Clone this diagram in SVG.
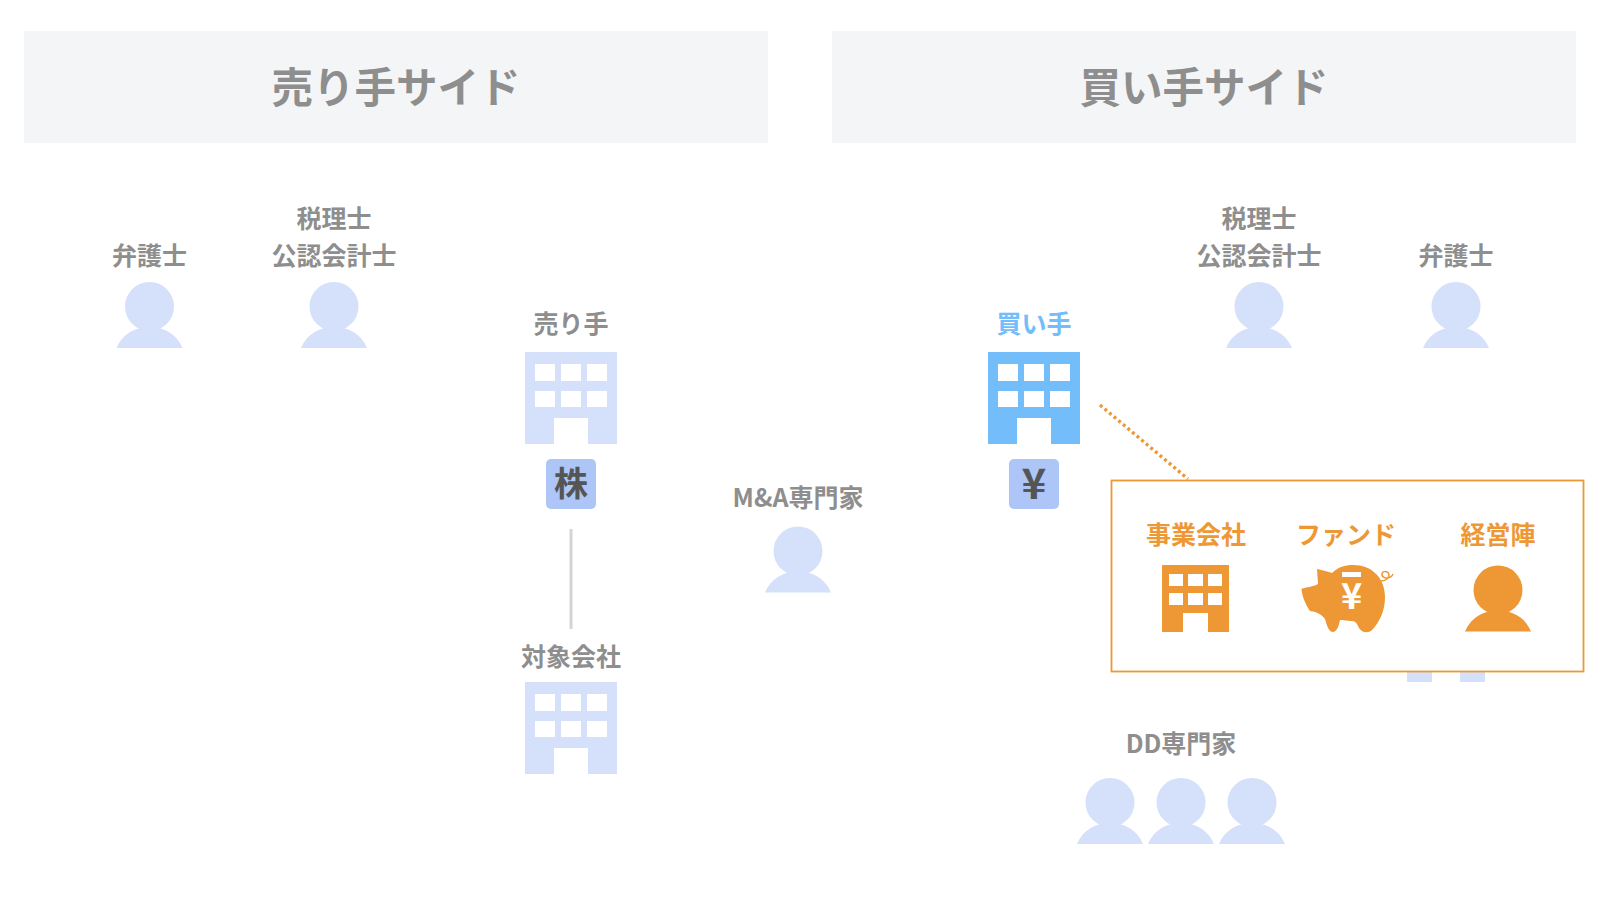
<svg xmlns="http://www.w3.org/2000/svg" width="1600" height="900" viewBox="0 0 1600 900">
<style>
text{font-family:"Noto Sans CJK JP","Noto Sans",sans-serif;font-weight:700;text-anchor:middle}
.h{font-size:41.500px;fill:#8e8e8e}
.l{font-size:25px;fill:#8e8e8e}
.o{font-size:25px;fill:#ee9835}
.k{font-size:34px;fill:#555}
.hd{fill:#f4f5f7}
.tag{fill:#adc5f7}
</style>
<defs>
<g id="bld"><path fill-rule="evenodd" d="M0 0H92V92H63V66H29V92H0ZM10 12V29H30V12ZM36 12V29H56V12ZM62 12V29H82V12ZM10 39V55H30V39ZM36 39V55H56V39ZM62 39V55H82V39Z"/></g>
<g id="per"><circle cx="0" cy="24.500" r="24.500"/><path d="M-33 66C-27 52-15 45 0 45S27 52 33 66Z"/></g>
</defs>
<rect width="1600" height="900" fill="#fff"/>
<g id="header-seller"><rect class="hd" x="24" y="31" width="744" height="112"/><text class="h" x="396" y="103">売り手サイド</text></g>
<g id="header-buyer"><rect class="hd" x="832" y="31" width="744" height="112"/><text class="h" x="1204" y="103">買い手サイド</text></g>
<g id="connectors">
<line x1="571" y1="529" x2="571" y2="629" stroke="#d4d4d4" stroke-width="3"/>
<line x1="1100" y1="405" x2="1188" y2="479" stroke="#ee9835" stroke-width="3.400" stroke-dasharray="3 3"/>
</g>
<g id="seller-lawyer" fill="#d5e0fa"><text class="l" x="149.500" y="265">弁護士</text><use href="#per" x="149.500" y="282"/></g>
<g id="seller-tax" fill="#d5e0fa"><text class="l" x="334" y="227.500">税理士</text><text class="l" x="334" y="265">公認会計士</text><use href="#per" x="334" y="282"/></g>
<g id="seller" fill="#d5e0fa"><text class="l" x="571" y="332.500">売り手</text><use href="#bld" x="525" y="352"/><rect class="tag" x="546" y="459" width="50" height="50" rx="5"/><text class="k" x="571" y="496">株</text></g>
<g id="target" fill="#d5e0fa"><text class="l" x="571" y="665.500">対象会社</text><use href="#bld" x="525" y="682"/></g>
<g id="ma" fill="#d5e0fa"><text class="l" x="798" y="506.500">M&amp;A専門家</text><use href="#per" x="798" y="526.500"/></g>
<g id="buyer" fill="#73bdfb"><text class="l" style="fill:#73bdfb" x="1034" y="332.500">買い手</text><use href="#bld" x="988" y="352"/><rect class="tag" x="1009" y="459" width="50" height="50" rx="5"/><text x="1034" y="499" font-size="42" style="fill:#555">¥</text></g>
<g id="buyer-tax" fill="#d5e0fa"><text class="l" x="1259" y="227.500">税理士</text><text class="l" x="1259" y="265">公認会計士</text><use href="#per" x="1259" y="282"/></g>
<g id="buyer-lawyer" fill="#d5e0fa"><text class="l" x="1456" y="265">弁護士</text><use href="#per" x="1456" y="282"/></g>
<g id="dd" fill="#d5e0fa"><text class="l" x="1181" y="753">DD専門家</text><use href="#per" x="1110" y="778"/><use href="#per" x="1181" y="778"/><use href="#per" x="1252" y="778"/></g>
<g id="hidden-building" fill="#d5e0fa"><rect x="1407" y="671" width="25" height="11"/><rect x="1460" y="671" width="25" height="11"/></g>
<g id="buyer-types">
<rect x="1111.500" y="480.500" width="472" height="191" fill="#fff" stroke="#ee9835" stroke-width="1.800"/>
<g id="company" fill="#ee9835"><text class="o" x="1196" y="544">事業会社</text>
<path fill-rule="evenodd" d="M1162 565H1229V632H1208V613H1183V632H1162ZM1169 574V586H1183V574ZM1188 574V586H1203V574ZM1208 574V586H1222V574ZM1169 593V605H1183V593ZM1188 593V605H1203V593ZM1208 593V605H1222V593Z"/></g>
<g id="fund" fill="#ee9835"><text class="o" x="1346" y="544">ファンド</text>
<path d="M1301.500 589C1306 587 1313 587 1318 584L1317 569C1323 570 1328 572 1332 573C1338 567 1345 565 1353 565C1372 565 1385 578 1385 597C1385 612 1379 622 1373 629C1369 634 1362 633 1359 628C1357 624 1356 621 1352 621C1348 621 1342 620 1340 620C1339 625 1337 632 1333 632C1329 632 1327 626 1325 619C1322 615 1318 612 1310 611C1306 605 1302 597 1301.500 589Z"/>
<path d="M1381 581C1385 581 1389 579 1389 575C1388 570 1381 571 1382 575C1383 579 1391 579 1393 574" fill="none" stroke="#ee9835" stroke-width="1.500"/>
<rect x="1342" y="572" width="19" height="5" fill="#fff"/>
<text x="1351.500" y="609" font-size="36" style="fill:#fff">¥</text></g>
<g id="mgmt" fill="#ee9835"><text class="o" x="1498" y="544">経営陣</text><use href="#per" x="1498" y="565.500"/></g>
</g>
</svg>
